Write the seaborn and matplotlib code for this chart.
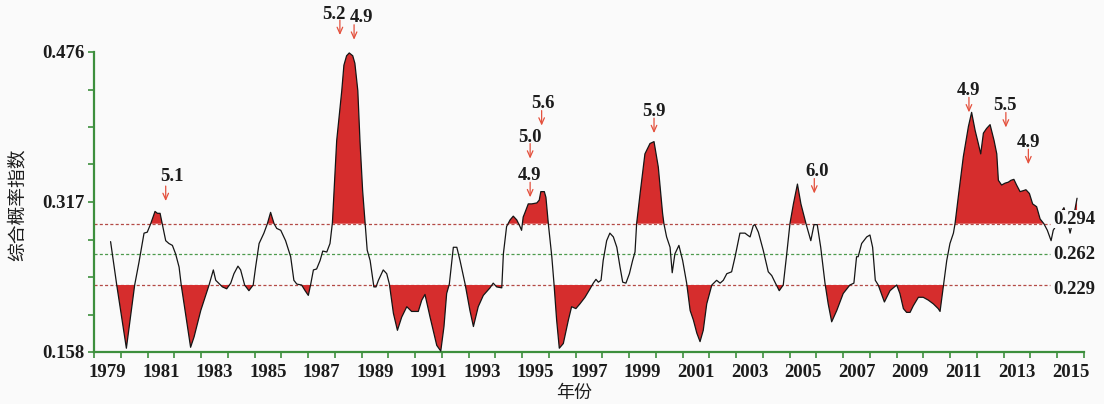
import numpy as np
import pandas as pd
import matplotlib.pyplot as plt
import matplotlib.transforms as mtransforms
import seaborn as sns

# 综合概率指数
years = [1979.62, 1979.85, 1980.21, 1980.52, 1980.68, 1980.87, 1980.99, 1981.12, 1981.28, 1981.37,
         1981.47, 1981.55, 1981.68, 1981.80, 1981.93, 1982.05, 1982.18, 1982.26, 1982.61, 1982.74,
         1982.99, 1983.30, 1983.46, 1983.55, 1983.80, 1983.96, 1984.11, 1984.23, 1984.38, 1984.48,
         1984.63, 1984.79, 1984.95, 1985.04, 1985.17, 1985.35, 1985.48, 1985.60, 1985.73, 1985.83,
         1985.98, 1986.16, 1986.35, 1986.47, 1986.58, 1986.76, 1986.89, 1987.01, 1987.10, 1987.20,
         1987.32, 1987.45, 1987.55, 1987.70, 1987.82, 1987.91, 1988.07, 1988.26, 1988.34, 1988.44,
         1988.54, 1988.67, 1988.75, 1988.86, 1988.94, 1989.04, 1989.13, 1989.21, 1989.32, 1989.46,
         1989.54, 1989.63, 1989.81, 1989.94, 1990.04, 1990.19, 1990.34, 1990.50, 1990.69, 1990.87,
         1991.12, 1991.25, 1991.37, 1991.56, 1991.81, 1991.96, 1992.08, 1992.18, 1992.28, 1992.43,
         1992.56, 1992.68, 1992.87, 1993.05, 1993.18, 1993.36, 1993.55, 1993.80, 1993.92, 1994.05,
         1994.24, 1994.30, 1994.42, 1994.55, 1994.67, 1994.80, 1994.92, 1994.98, 1995.04, 1995.11,
         1995.23, 1995.36, 1995.55, 1995.64, 1995.70, 1995.83, 1995.89, 1995.98, 1996.11, 1996.19,
         1996.29, 1996.39, 1996.54, 1996.73, 1996.85, 1997.01, 1997.16, 1997.35, 1997.54, 1997.66,
         1997.76, 1997.85, 1997.95, 1998.03, 1998.16, 1998.28, 1998.41, 1998.54, 1998.66, 1998.76,
         1998.88, 1999.01, 1999.13, 1999.22, 1999.28, 1999.41, 1999.59, 1999.78, 1999.93, 2000.09,
         2000.25, 2000.30, 2000.40, 2000.53, 2000.61, 2000.71, 2000.86, 2001.00, 2001.15, 2001.28,
         2001.40, 2001.53, 2001.65, 2001.77, 2001.90, 2002.09, 2002.27, 2002.40, 2002.52, 2002.65,
         2002.83, 2002.96, 2003.14, 2003.33, 2003.42, 2003.52, 2003.64, 2003.70, 2003.83, 2004.01,
         2004.20, 2004.33, 2004.45, 2004.61, 2004.76, 2004.89, 2005.01, 2005.14, 2005.29, 2005.42,
         2005.61, 2005.79, 2005.91, 2006.03, 2006.16, 2006.32, 2006.44, 2006.57, 2006.76, 2007.00,
         2007.25, 2007.40, 2007.50, 2007.56, 2007.69, 2007.88, 2008.00, 2008.10, 2008.20, 2008.31,
         2008.54, 2008.75, 2009.00, 2009.12, 2009.25, 2009.37, 2009.50, 2009.62, 2009.81, 2009.99,
         2010.18, 2010.37, 2010.55, 2010.62, 2010.74, 2010.87, 2010.99, 2011.12, 2011.18, 2011.30,
         2011.49, 2011.68, 2011.80, 2011.93, 2012.05, 2012.14, 2012.24, 2012.36, 2012.49, 2012.64,
         2012.74, 2012.80, 2012.92, 2013.05, 2013.17, 2013.27, 2013.38, 2013.48, 2013.61, 2013.73,
         2013.83, 2013.96, 2014.08, 2014.23, 2014.36, 2014.50, 2014.63, 2014.77, 2014.85, 2014.98,
         2015.14, 2015.25, 2015.36, 2015.48, 2015.59, 2015.74]
index = [0.275, 0.229, 0.162, 0.229, 0.253, 0.284, 0.285, 0.294, 0.307, 0.305,
         0.305, 0.294, 0.276, 0.273, 0.271, 0.262, 0.248, 0.229, 0.163, 0.174,
         0.202, 0.229, 0.245, 0.234, 0.227, 0.225, 0.231, 0.241, 0.249, 0.245,
         0.229, 0.223, 0.229, 0.248, 0.273, 0.284, 0.294, 0.306, 0.294, 0.289,
         0.287, 0.276, 0.259, 0.234, 0.230, 0.229, 0.223, 0.218, 0.230, 0.245,
         0.246, 0.255, 0.265, 0.264, 0.273, 0.295, 0.382, 0.435, 0.462, 0.472,
         0.475, 0.472, 0.464, 0.435, 0.382, 0.329, 0.295, 0.266, 0.255, 0.227,
         0.227, 0.234, 0.245, 0.241, 0.230, 0.199, 0.181, 0.195, 0.206, 0.201,
         0.201, 0.213, 0.219, 0.195, 0.165, 0.159, 0.185, 0.220, 0.230, 0.269,
         0.269, 0.255, 0.230, 0.202, 0.185, 0.206, 0.218, 0.226, 0.231, 0.227,
         0.226, 0.262, 0.291, 0.298, 0.302, 0.298, 0.291, 0.287, 0.301, 0.306,
         0.315, 0.315, 0.316, 0.319, 0.328, 0.328, 0.322, 0.294, 0.259, 0.231,
         0.192, 0.162, 0.167, 0.192, 0.206, 0.204, 0.209, 0.216, 0.225, 0.231,
         0.235, 0.232, 0.234, 0.255, 0.276, 0.284, 0.280, 0.269, 0.248, 0.232,
         0.231, 0.241, 0.255, 0.264, 0.294, 0.326, 0.368, 0.379, 0.381, 0.354,
         0.305, 0.294, 0.280, 0.269, 0.242, 0.262, 0.271, 0.255, 0.231, 0.202,
         0.192, 0.178, 0.169, 0.181, 0.209, 0.229, 0.234, 0.231, 0.234, 0.241,
         0.243, 0.259, 0.284, 0.284, 0.282, 0.280, 0.292, 0.293, 0.285, 0.266,
         0.243, 0.239, 0.232, 0.223, 0.229, 0.262, 0.294, 0.315, 0.336, 0.315,
         0.294, 0.276, 0.293, 0.293, 0.269, 0.231, 0.209, 0.190, 0.202, 0.220,
         0.229, 0.231, 0.259, 0.259, 0.273, 0.280, 0.282, 0.269, 0.234, 0.229,
         0.211, 0.223, 0.229, 0.220, 0.204, 0.200, 0.200, 0.207, 0.216, 0.216,
         0.213, 0.209, 0.204, 0.201, 0.227, 0.255, 0.273, 0.284, 0.294, 0.322,
         0.365, 0.397, 0.412, 0.393, 0.379, 0.368, 0.390, 0.395, 0.399, 0.382,
         0.368, 0.340, 0.335, 0.337, 0.338, 0.340, 0.341, 0.335, 0.328, 0.329,
         0.330, 0.326, 0.315, 0.312, 0.299, 0.294, 0.287, 0.276, 0.287, 0.293,
         0.306, 0.311, 0.300, 0.284, 0.298, 0.321]

# threshold lines
upper, middle, lower = 0.294, 0.262, 0.229

# earthquake magnitudes marked with arrows
ann_labels = ['5.1', '5.2', '4.9', '4.9', '5.0', '5.6', '5.9', '6.0', '4.9', '5.5', '4.9']
ann_years = [1981.68, 1988.19, 1988.72, 1995.30, 1995.30, 1995.73, 1999.93, 2005.92, 2011.70, 2013.08, 2013.92]
ann_tips = [0.318, 0.494, 0.489, 0.322, 0.363, 0.398, 0.390, 0.326, 0.412, 0.396, 0.357]

yticks = [0.158, 0.317, 0.476]
xlabels = list(range(1979, 2016, 2))

bg = '#fafafa'
red = '#d62d2d'
green = '#3d8f3d'
arrow_col = '#e4503c'
txt = '#1c1c1c'
fs = 13.5

sns.set_style('white')
plt.rcParams['font.family'] = ['Liberation Serif', 'DejaVu Serif']
plt.rcParams['lines.scale_dashes'] = False

fig = plt.figure(figsize=(11.04, 4.04), dpi=100, facecolor=bg)
ax = fig.add_axes([94 / 1104, 52 / 404, 990 / 1104, 300 / 404])
ax.set_facecolor(bg)

df = pd.DataFrame({'year': years, 'index': index})
y = np.array(index)

# reference lines (stop short of the right labels)
for val, col in [(upper, '#b34a45'), (middle, '#4d9a4d'), (lower, '#b34a45')]:
    ax.axhline(val, xmin=0, xmax=0.9657, color=col, lw=0.9, ls=(0, (2.2, 1.6)), zorder=1)

ax.fill_between(years, y, upper, where=y > upper, interpolate=True, color=red, lw=0, zorder=2)
ax.fill_between(years, y, lower, where=y < lower, interpolate=True, color=red, lw=0, zorder=2)
sns.lineplot(data=df, x='year', y='index', ax=ax, color='#151515', linewidth=0.9,
             estimator=None, sort=False, zorder=3)

ax.set_xlim(1979, 2016)
ax.set_ylim(0.158, 0.476)

# axes styling
for s in ['top', 'right']:
    ax.spines[s].set_visible(False)
for s in ['left', 'bottom']:
    ax.spines[s].set_color(green)
    ax.spines[s].set_linewidth(1.6)

ax.set_yticks(yticks)
ax.set_yticklabels([f'{v:.3f}' for v in yticks])
ax.set_yticks(np.linspace(0.158, 0.476, 9), minor=True)
ax.tick_params(axis='y', which='both', direction='out', length=4.5, width=1.2, color=green,
               left=True, pad=2, labelsize=fs, labelcolor=txt)

ax.set_xticks(np.arange(1979, 2017))
ax.set_xticklabels([])
ax.set_xticks([v + 0.5 for v in xlabels], minor=True)
ax.set_xticklabels([str(v) for v in xlabels], minor=True)
ax.tick_params(axis='x', which='major', direction='out', length=4, width=1.2, color=green, bottom=True)
ax.tick_params(axis='x', which='minor', length=0, pad=8.5, labelsize=fs, labelcolor=txt, bottom=True)
for lab in ax.get_xticklabels(minor=True) + ax.get_yticklabels():
    lab.set_fontweight('bold')

ax.set_xlabel('年份', fontfamily=['Noto Sans CJK SC'], fontsize=13, fontweight='medium', color=txt)
ax.xaxis.set_label_coords(0.485, -0.105)
ax.set_ylabel('综合概率指数', fontfamily=['Noto Sans CJK SC'], fontsize=13.5, fontweight='medium', color=txt)
ax.yaxis.set_label_coords(-0.067, 0.49)

# magnitude arrows and labels
label_off = [(6, 20), (-6, 16), (7, 18), (-1, 17), (0, 16.5), (1, 18), (0, 17.5), (3, 18), (0, 17), (-1, 17.5), (0, 17.5)]
for lab, xv, tv, (dx, dy) in zip(ann_labels, ann_years, ann_tips, label_off):
    ax.annotate('', xy=(xv, tv), xytext=(0, 15), textcoords='offset pixels',
                arrowprops=dict(arrowstyle='->,head_length=0.45,head_width=0.2', color=arrow_col,
                                lw=0.9, shrinkA=0, shrinkB=0),
                annotation_clip=False, zorder=5)
    ax.annotate(lab, xy=(xv, tv), xytext=(dx, dy), textcoords='offset pixels',
                ha='center', va='baseline', fontsize=fs, fontweight='bold', color=txt,
                annotation_clip=False, zorder=5)

# threshold values at the right
trans = mtransforms.blended_transform_factory(ax.transAxes, ax.transData)
for val, dy in [(upper, 0), (middle, -4.7), (lower, -8.6)]:
    ax.annotate(f'{val:.3f}', xy=(0.9687, val), xycoords=trans, xytext=(0, dy),
                textcoords='offset pixels', ha='left', va='baseline', fontsize=fs,
                fontweight='bold', color=txt, annotation_clip=False, zorder=6,
                bbox=dict(facecolor=bg, edgecolor='none', pad=0.3))

fig.savefig('out.png', dpi=100, facecolor=bg)
